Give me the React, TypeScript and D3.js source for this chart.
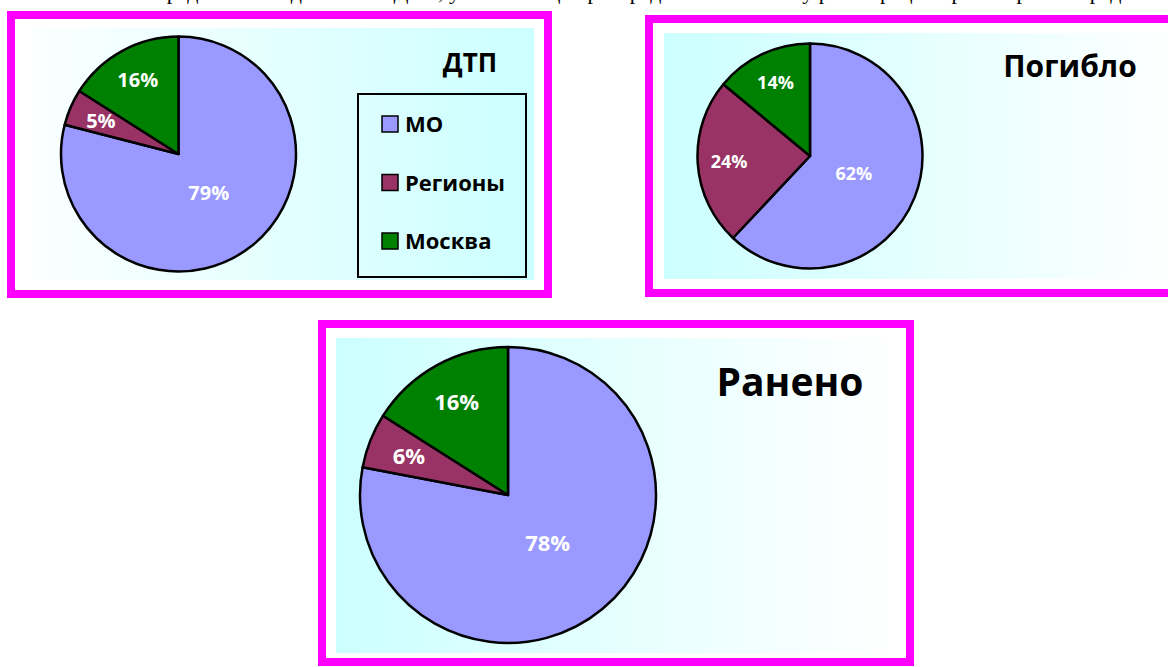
import React from "react";
import * as d3 from "d3";

// ---- data ----
const categories = ["МО", "Регионы", "Москва"];
const dtpShares = [79, 5, 16];
const killedShares = [62, 24, 14];
const injuredShares = [78, 6, 16];
const titles = ["ДТП", "Погибло", "Ранено"];
const headerText =
  "представлены данные по ДТП, учитывающие распределение по месту регистрации транспортных средств и водителей";

// ---- styles ----
const sliceColors = ["#9999ff", "#993366", "#008000"];
const magenta = "#ff00ff";
const FONT = "'Open Sans', 'Noto Sans', 'DejaVu Sans', sans-serif";

type PanelCfg = {
  values: number[];
  title: string;
  frame: { x: number; y: number; w: number; h: number };
  bg: { x: number; y: number; w: number; h: number; id: string; reverse: boolean };
  cx: number;
  cy: number;
  r: number;
  labelSize: number;
  titleX: number;
  titleY: number;
  titleSize: number;
};

const panels: PanelCfg[] = [
  {
    values: dtpShares,
    title: titles[0],
    frame: { x: 11, y: 15, w: 537, h: 279 },
    bg: { x: 32, y: 28, w: 502, h: 252, id: "g1", reverse: true },
    cx: 178.5,
    cy: 154,
    r: 117.5,
    labelSize: 20,
    titleX: 470,
    titleY: 72,
    titleSize: 26,
  },
  {
    values: killedShares,
    title: titles[1],
    frame: { x: 649, y: 19, w: 600, h: 274 },
    bg: { x: 664, y: 33, w: 520, h: 246, id: "g2", reverse: false },
    cx: 810,
    cy: 156,
    r: 112.5,
    labelSize: 18,
    titleX: 1070,
    titleY: 77,
    titleSize: 30,
  },
  {
    values: injuredShares,
    title: titles[2],
    frame: { x: 322, y: 324, w: 588, h: 338 },
    bg: { x: 336, y: 338, w: 562, h: 315, id: "g3", reverse: false },
    cx: 508,
    cy: 495,
    r: 148,
    labelSize: 22,
    titleX: 790,
    titleY: 396,
    titleSize: 39,
  },
];

const pieGen = d3
  .pie<number>()
  .sort(null)
  .value((d) => d)
  .startAngle(0)
  .endAngle(2 * Math.PI);

function Pie({ p }: { p: PanelCfg }) {
  const arcs = pieGen(p.values);
  const arc = d3.arc<d3.PieArcDatum<number>>().innerRadius(0).outerRadius(p.r);
  return (
    <g transform={`translate(${p.cx},${p.cy})`}>
      {arcs.map((a, i) => (
        <path
          key={i}
          d={arc(a) || ""}
          fill={sliceColors[i]}
          stroke="#000"
          strokeWidth={2.5}
          strokeLinejoin="round"
        />
      ))}
      {arcs.map((a, i) => {
        const big = a.endAngle - a.startAngle > Math.PI;
        const lr = p.r * (big ? 0.42 : 0.72);
        const la = d3.arc<d3.PieArcDatum<number>>().innerRadius(lr).outerRadius(lr);
        const [x, y] = la.centroid(a);
        return (
          <text
            key={"l" + i}
            x={x}
            y={y}
            dy="0.36em"
            textAnchor="middle"
            fill="#fff"
            fontFamily={FONT}
            fontWeight={700}
            fontSize={p.labelSize}
          >
            {`${a.data}%`}
          </text>
        );
      })}
    </g>
  );
}

export default function App() {
  const legendY = d3.scalePoint<string>().domain(categories).range([124, 241]);
  return (
    <svg
      width={1168}
      height={667}
      style={{ position: "absolute", left: 0, top: 0, background: "#fff" }}
    >
      <defs>
        {panels.map((p) => (
          <linearGradient key={p.bg.id} id={p.bg.id} x1="0" y1="0" x2="1" y2="0">
            <stop offset="0" stopColor={p.bg.reverse ? "#fbffff" : "#ccffff"} />
            <stop offset="1" stopColor={p.bg.reverse ? "#ccffff" : "#ffffff"} />
          </linearGradient>
        ))}
      </defs>

      <text
        x={155}
        y={-1}
        fontFamily="'Liberation Serif', 'DejaVu Serif', serif"
        fontSize={22}
        fill="#000"
      >
        {headerText}
      </text>

      {panels.map((p, k) => (
        <g key={k}>
          <rect
            x={p.frame.x}
            y={p.frame.y}
            width={p.frame.w}
            height={p.frame.h}
            fill="#fff"
            stroke={magenta}
            strokeWidth={8}
          />
          <rect x={p.bg.x} y={p.bg.y} width={p.bg.w} height={p.bg.h} fill={`url(#${p.bg.id})`} />
          <Pie p={p} />
          <text
            x={p.titleX}
            y={p.titleY}
            textAnchor="middle"
            fontFamily={FONT}
            fontWeight={700}
            fontSize={p.titleSize}
            fill="#000"
          >
            {p.title}
          </text>
        </g>
      ))}

      {/* legend of first panel */}
      <g>
        <rect x={358} y={94} width={168} height={183} fill="none" stroke="#000" strokeWidth={2} />
        {categories.map((c, i) => {
          const cy = legendY(c) as number;
          return (
            <g key={c}>
              <rect
                x={382}
                y={cy - 8}
                width={16}
                height={16}
                fill={sliceColors[i]}
                stroke="#000"
                strokeWidth={1.5}
              />
              <text
                x={405}
                y={cy + 8}
                fontFamily={FONT}
                fontWeight={700}
                fontSize={22}
                fill="#000"
              >
                {c}
              </text>
            </g>
          );
        })}
      </g>
    </svg>
  );
}
